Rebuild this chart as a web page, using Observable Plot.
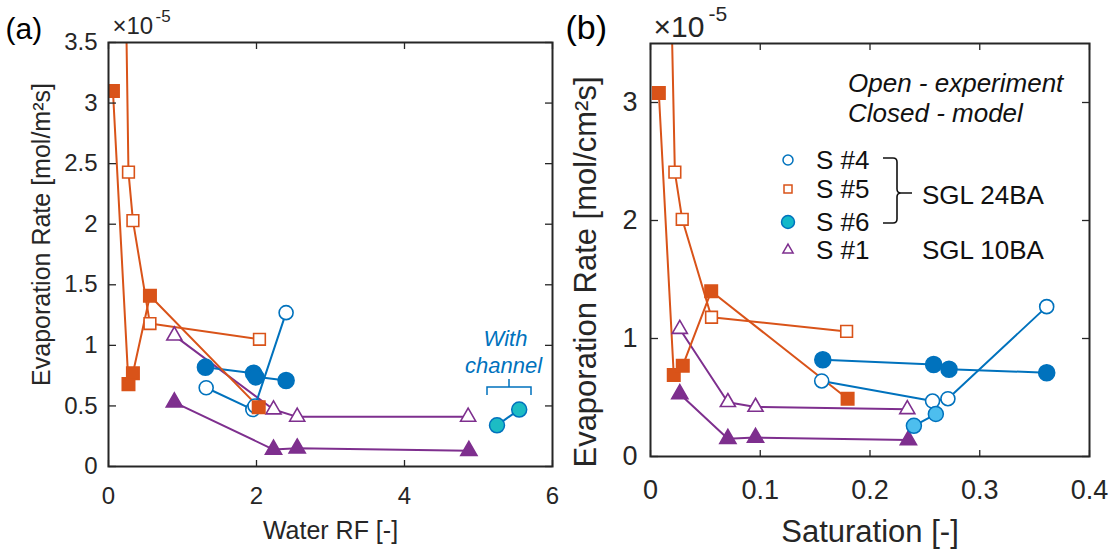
<!DOCTYPE html>
<html><head><meta charset="utf-8">
<script src="https://cdn.jsdelivr.net/npm/d3@7"></script>
<script src="https://cdn.jsdelivr.net/npm/@observablehq/plot@0.6"></script>
<style>
body{margin:0;background:#fff;font-family:"Liberation Sans",Arial,sans-serif;}
#wrap{position:relative;width:1119px;height:554px;overflow:hidden;background:#fff;}
#wrap svg{position:absolute;top:0;}
</style></head><body><div id="wrap"></div>
<script>
// ---------- colours ----------
const BLUE = "#0072BD", ORANGE = "#D95319", PURPLE = "#7E2F8E", CYAN_A = "#1CBCC4", CYAN_B = "#4DBEEE", INK = "#262626";

// ---------- ticks ----------
const xTicksA = [0, 2, 4, 6];
const yTicksA = [0, 0.5, 1, 1.5, 2, 2.5, 3, 3.5];
const xTicksB = [0, 0.1, 0.2, 0.3, 0.4];
const yTicksB = [0, 1, 2, 3];

// ---------- panel (a): Water RF [-] vs rate (x1e-5) ----------
const s5ModelA_x = [0.06, 0.27, 0.33, 0.56, 2.03];
const s5ModelA_y = [3.10, 0.68, 0.77, 1.41, 0.49];
const s5ExpA_x = [0.22, 0.27, 0.33, 0.56, 2.04];
const s5ExpA_y = [4.5, 2.43, 2.03, 1.18, 1.05];
const s4ExpA_x = [1.32, 1.95, 1.98, 2.40];
const s4ExpA_y = [0.65, 0.47, 0.50, 1.27];
const s4ModelA_x = [1.31, 1.96, 1.99, 2.40];
const s4ModelA_y = [0.82, 0.77, 0.74, 0.71];
const s6A_x = [5.25, 5.55];
const s6A_y = [0.34, 0.47];
const s1ExpA_x = [0.89, 2.23, 2.55, 4.86];
const s1ExpA_y = [1.08, 0.47, 0.41, 0.41];
const s1ModelA_x = [0.89, 2.23, 2.55, 4.87];
const s1ModelA_y = [0.53, 0.14, 0.15, 0.13];

// ---------- panel (b): Saturation [-] vs rate (x1e-5) ----------
const s5ModelB_x = [0.0076, 0.0212, 0.0294, 0.0553, 0.1796];
const s5ModelB_y = [3.08, 0.69, 0.77, 1.40, 0.49];
const s5ExpB_x = [0.0175, 0.0222, 0.0289, 0.0556, 0.1787];
const s5ExpB_y = [4.5, 2.41, 2.01, 1.18, 1.06];
const s4ExpB_x = [0.156, 0.257, 0.271, 0.361];
const s4ExpB_y = [0.64, 0.47, 0.49, 1.27];
const s4ModelB_x = [0.157, 0.258, 0.272, 0.361];
const s4ModelB_y = [0.82, 0.78, 0.74, 0.71];
const s6B_x = [0.240, 0.260];
const s6B_y = [0.26, 0.36];
const s1ExpB_x = [0.0267, 0.0705, 0.0957, 0.234];
const s1ExpB_y = [1.08, 0.46, 0.42, 0.40];
const s1ModelB_x = [0.0267, 0.0705, 0.0957, 0.235];
const s1ModelB_y = [0.53, 0.15, 0.16, 0.14];

function dataMarks(list) {
  const marks = [];
  for (const s of list) {
    const idx = d3.range(s.xs.length);
    marks.push(Plot.line(idx, {x: i => s.xs[i], y: i => s.ys[i], stroke: s.line || s.color, strokeWidth: 2, clip: true}));
  }
  for (const s of list) {
    const idx = d3.range(s.xs.length);
    marks.push(Plot.dot(idx, {x: i => s.xs[i], y: i => s.ys[i], symbol: s.symbol, r: s.r,
      fill: s.fill || "white", stroke: s.stroke || s.color, strokeWidth: s.sw || 1.6, clip: true}));
  }
  return marks;
}

const fmt = d => `${d}`;
// Inward ticks (MATLAB style, box on): each axis is anchored on the opposite side and shifted across the frame
function axes(xT, yT, fw, fh, fs, padX, padY) {
  const common = {tickFormat: () => "", label: null, strokeWidth: 1.3, stroke: INK, tickSize: 7};
  return [
    Plot.axisX({anchor: "top", ticks: xT, dy: fh, ...common}),      // bottom edge, pointing up
    Plot.axisX({anchor: "bottom", ticks: xT, dy: -fh, ...common}),  // top edge, pointing down
    Plot.axisY({anchor: "right", ticks: yT, dx: -fw, ...common}),   // left edge, pointing right
    Plot.axisY({anchor: "left", ticks: yT, dx: fw, ...common}),     // right edge, pointing left
    Plot.axisX({anchor: "bottom", ticks: xT, tickSize: 0, tickPadding: padX, tickFormat: fmt, fontSize: fs, label: null, fill: INK}),
    Plot.axisY({anchor: "left", ticks: yT, tickSize: 0, tickPadding: padY, tickFormat: fmt, fontSize: fs, label: null, fill: INK})
  ];
}

const T = d => d;
const style = {fontFamily: "'Liberation Sans', Arial, sans-serif", color: INK, background: "none", overflow: "visible"};

// ---------- panel (a) ----------
const seriesA = [
  {xs: s1ModelA_x, ys: s1ModelA_y, color: PURPLE, symbol: "triangle", r: 6, fill: PURPLE},
  {xs: s1ExpA_x, ys: s1ExpA_y, color: PURPLE, symbol: "triangle", r: 5.6},
  {xs: s5ExpA_x, ys: s5ExpA_y, color: ORANGE, symbol: "square", r: 6.6},
  {xs: s4ModelA_x, ys: s4ModelA_y, color: BLUE, symbol: "circle", r: 8, fill: BLUE},
  {xs: s4ExpA_x, ys: s4ExpA_y, color: BLUE, symbol: "circle", r: 7},
  {xs: s5ModelA_x, ys: s5ModelA_y, color: ORANGE, symbol: "square", r: 7, fill: ORANGE},
  {xs: s6A_x, ys: s6A_y, color: BLUE, symbol: "circle", r: 7.5, fill: CYAN_A, sw: 1.5}
];

const A = {width: 560, height: 554, ml: 108, mr: 8, mt: 42, mb: 88};
const plotA = Plot.plot({
  width: A.width, height: A.height,
  marginLeft: A.ml, marginRight: A.mr, marginTop: A.mt, marginBottom: A.mb,
  x: {domain: [0, 6]}, y: {domain: [0, 3.5]},
  style,
  marks: [
    ...dataMarks(seriesA),
    ...axes(xTicksA, yTicksA, A.width - A.ml - A.mr, A.height - A.mt - A.mb, 24, 20, 11),
    Plot.frame({stroke: INK, strokeWidth: 2}),
    Plot.text(["Water RF [-]"], {text: T, frameAnchor: "bottom", dy: 64, fontSize: 25, textAnchor: "middle", lineAnchor: "middle", fill: INK}),
    Plot.text(["Evaporation Rate [mol/m²s]"], {text: T, frameAnchor: "left", rotate: -90, dx: -67, dy: -20, fontSize: 25, textAnchor: "middle", lineAnchor: "middle", fill: INK}),
    Plot.text(["×10"], {text: T, frameAnchor: "top-left", dx: 4, dy: -16, fontSize: 24, textAnchor: "start", lineAnchor: "middle", fill: INK}),
    Plot.text(["-5"], {text: T, frameAnchor: "top-left", dx: 47, dy: -26, fontSize: 17, textAnchor: "start", lineAnchor: "middle", fill: INK}),
    Plot.text(["(a)"], {text: T, frameAnchor: "top-left", dx: -103, dy: -13, fontSize: 30, textAnchor: "start", lineAnchor: "middle", fill: "black"}),
    Plot.text(["With"], {text: T, frameAnchor: "top-left", dx: 397, dy: 296, fontSize: 22, fontStyle: "italic", fill: BLUE, textAnchor: "middle", lineAnchor: "middle"}),
    Plot.text(["channel"], {text: T, frameAnchor: "top-left", dx: 395, dy: 323, fontSize: 22, fontStyle: "italic", fill: BLUE, textAnchor: "middle", lineAnchor: "middle"})
  ]
});
plotA.style.left = "0px";

// ---------- panel (b) ----------
const seriesB = [
  {xs: s1ModelB_x, ys: s1ModelB_y, color: PURPLE, symbol: "triangle", r: 6, fill: PURPLE},
  {xs: s1ExpB_x, ys: s1ExpB_y, color: PURPLE, symbol: "triangle", r: 5.6},
  {xs: s5ExpB_x, ys: s5ExpB_y, color: ORANGE, symbol: "square", r: 6.6},
  {xs: s4ModelB_x, ys: s4ModelB_y, color: BLUE, symbol: "circle", r: 8, fill: BLUE},
  {xs: s4ExpB_x, ys: s4ExpB_y, color: BLUE, symbol: "circle", r: 7},
  {xs: s5ModelB_x, ys: s5ModelB_y, color: ORANGE, symbol: "square", r: 7, fill: ORANGE},
  {xs: s6B_x, ys: s6B_y, color: BLUE, symbol: "circle", r: 7.5, fill: CYAN_B, sw: 1.5}
];

const B = {width: 559, height: 554, ml: 90, mr: 30, mt: 43, mb: 98};
const plotB = Plot.plot({
  width: B.width, height: B.height,
  marginLeft: B.ml, marginRight: B.mr, marginTop: B.mt, marginBottom: B.mb,
  x: {domain: [0, 0.4]}, y: {domain: [0, 3.5]},
  style,
  marks: [
    ...dataMarks(seriesB),
    ...axes(xTicksB, yTicksB, B.width - B.ml - B.mr, B.height - B.mt - B.mb, 27, 23, 13),
    Plot.frame({stroke: INK, strokeWidth: 2}),
    Plot.text(["Saturation [-]"], {text: T, frameAnchor: "bottom", dy: 76, fontSize: 31, textAnchor: "middle", lineAnchor: "middle", fill: INK}),
    Plot.text(["Evaporation Rate [mol/cm²s]"], {text: T, frameAnchor: "left", rotate: -90, dx: -64, dy: 22, fontSize: 31, textAnchor: "middle", lineAnchor: "middle", fill: INK}),
    Plot.text(["×10"], {text: T, frameAnchor: "top-left", dx: 3, dy: -16, fontSize: 30, textAnchor: "start", lineAnchor: "middle", fill: INK}),
    Plot.text(["-5"], {text: T, frameAnchor: "top-left", dx: 58, dy: -29, fontSize: 21, textAnchor: "start", lineAnchor: "middle", fill: INK}),
    Plot.text(["(b)"], {text: T, frameAnchor: "top-left", dx: -85, dy: -15, fontSize: 34, textAnchor: "start", lineAnchor: "middle", fill: "black"})
  ]
});
plotB.style.left = "560px";

const wrap = document.getElementById("wrap");
wrap.appendChild(plotA);
wrap.appendChild(plotB);

// ---------- legend & annotation overlay ----------
const legendRows = [
  {label: "S #4", sym: d3.symbolCircle, size: Math.PI * 25, fill: "white", stroke: BLUE, y: 160},
  {label: "S #5", sym: d3.symbolSquare, size: 64, fill: "white", stroke: ORANGE, y: 189},
  {label: "S #6", sym: d3.symbolCircle, size: Math.PI * 42, fill: "#12B8C9", stroke: BLUE, y: 222},
  {label: "S #1", sym: d3.symbolTriangle, size: 45, fill: "white", stroke: PURPLE, y: 250}
];
const groupLabels = [{label: "SGL 24BA", y: 195}, {label: "SGL 10BA", y: 250}];
const noteLines = [{label: "Open - experiment", y: 83}, {label: "Closed - model", y: 113}];

const ov = d3.create("svg").attr("width", 1119).attr("height", 554)
  .style("left", "0px").style("pointer-events", "none")
  .attr("font-family", "'Liberation Sans', Arial, sans-serif");
ov.selectAll("text.note").data(noteLines).join("text")
  .attr("x", 848).attr("y", d => d.y).attr("dy", "0.35em")
  .attr("font-size", 26).attr("font-style", "italic").attr("fill", "#111").text(d => d.label);
ov.selectAll("path.sym").data(legendRows).join("path")
  .attr("transform", d => `translate(788,${d.y})`)
  .attr("d", d => d3.symbol(d.sym, d.size)())
  .attr("fill", d => d.fill).attr("stroke", d => d.stroke).attr("stroke-width", 1.5);
ov.selectAll("text.lab").data(legendRows).join("text")
  .attr("x", 816).attr("y", d => d.y).attr("dy", "0.35em")
  .attr("font-size", 26).attr("fill", "#111").text(d => d.label);
ov.selectAll("text.grp").data(groupLabels).join("text")
  .attr("x", 922).attr("y", d => d.y).attr("dy", "0.35em")
  .attr("font-size", 26).attr("fill", "#111").text(d => d.label);
// brace joining S#4..S#6
ov.append("path")
  .attr("d", "M883,158 L893,158 Q897,158 897,162 L897,189 Q897,193 901,193 L912,193 M901,193 Q897,193 897,197 L897,219 Q897,223 893,223 L883,223")
  .attr("fill", "none").attr("stroke", "#111").attr("stroke-width", 1.6);
// bracket for "With channel"
ov.append("path")
  .attr("d", "M487,395 L487,387 L531,387 L531,395 M509,387 L509,379")
  .attr("fill", "none").attr("stroke", BLUE).attr("stroke-width", 1.5);
wrap.appendChild(ov.node());
</script></body></html>
